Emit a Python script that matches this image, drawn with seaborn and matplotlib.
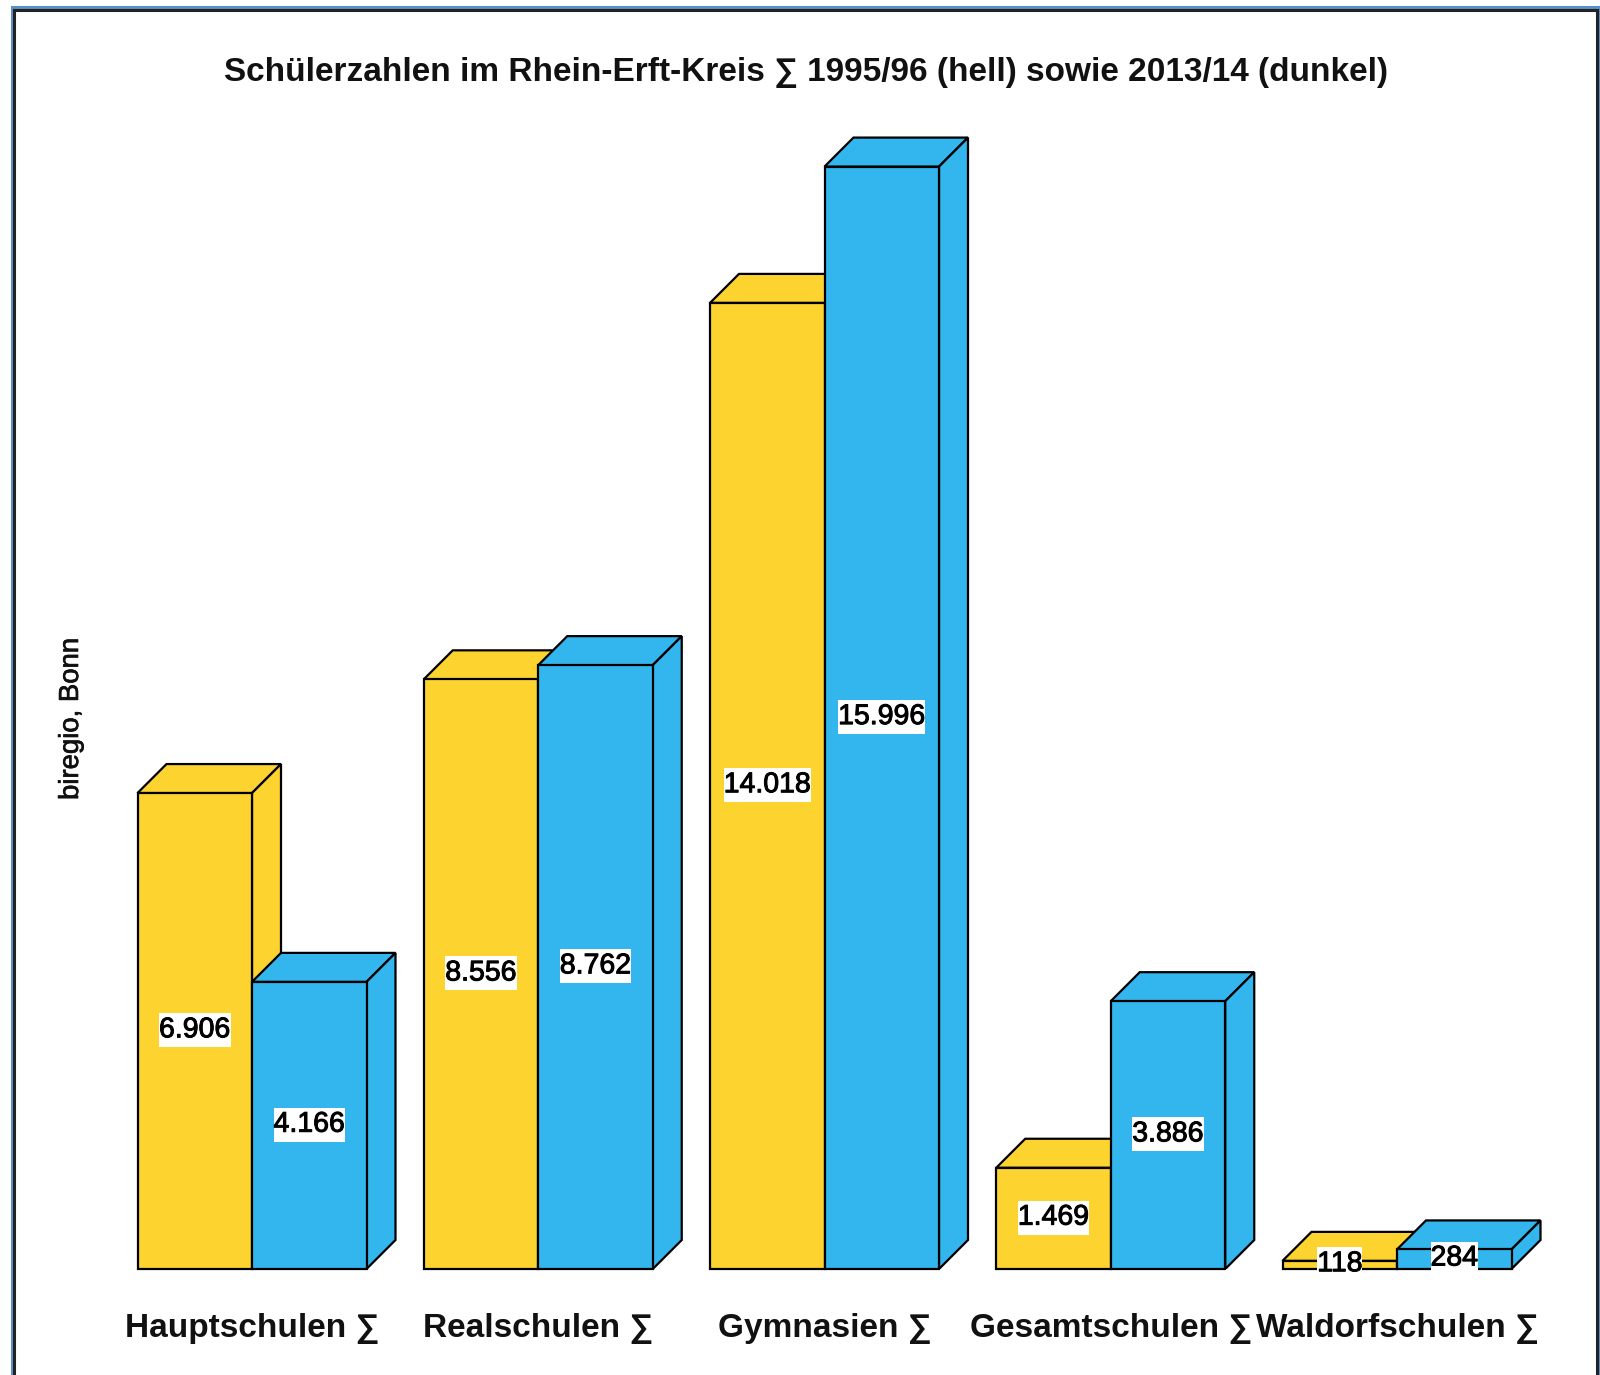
"""
Schülerzahlen im Rhein-Erft-Kreis, gruppierte Balken mit 3D-Optik
"""
import pandas as pd
import matplotlib
matplotlib.use("Agg")
import matplotlib.pyplot as plt
import matplotlib.patheffects as pe
from matplotlib.patches import Polygon, Rectangle
from matplotlib.path import Path
import seaborn as sns

schulen = ["Hauptschulen ∑", "Realschulen ∑", "Gymnasien ∑", "Gesamtschulen ∑", "Waldorfschulen ∑"]
jahre = ["1995/96", "2013/14"]
werte_1995 = [6906, 8556, 14018, 1469, 118]
werte_2013 = [4166, 8762, 15996, 3886, 284]
labels_1995 = ["6.906", "8.556", "14.018", "1.469", "118"]
labels_2013 = ["4.166", "8.762", "15.996", "3.886", "284"]
farben = ["#FDD330", "#33B5EE"]

titel = "Schülerzahlen im Rhein-Erft-Kreis ∑ 1995/96 (hell) sowie 2013/14 (dunkel)"
quelle = "biregio, Bonn"


def hohe_box(x0, y0, width, height, mutation_size):
    # weisses Feld eng in der Breite, hoeher als der Text
    x1, y1 = x0 + width, y0 + height + 4
    y0 = y0 - 4
    return Path([(x0, y0), (x1, y0), (x1, y1), (x0, y1), (x0, y0)], closed=True)


def main():
    sns.set_theme(style="white")
    plt.rcParams['font.family'] = ['Liberation Sans', 'DejaVu Sans']

    df = pd.DataFrame({
        "schule": schulen * 2,
        "jahr": [jahre[0]] * 5 + [jahre[1]] * 5,
        "anzahl": werte_1995 + werte_2013,
    })

    W, H = 1600, 1375
    base_px = 1269
    fig = plt.figure(figsize=(W / 100, H / 100), dpi=100, facecolor="white")
    ax = fig.add_axes([0, (H - base_px) / H, 1, base_px / H])
    sns.barplot(data=df, x="schule", y="anzahl", hue="jahr", palette=farben, saturation=1,
                edgecolor="black", linewidth=1.6, gap=0, legend=False, ax=ax)

    # Achsen so legen, dass eine Gruppe 286 px breit ist
    ax.set_xlim(-252 / 286.25, (W - 252) / 286.25)
    ax.set_ylim(0, base_px * 14.51)
    sns.despine(ax=ax, left=True, bottom=True)
    ax.set_xlabel("")
    ax.set_ylabel("")
    ax.set_yticks([])
    ax.tick_params(axis="x", length=0, pad=32)
    for t in ax.get_xticklabels():
        t.set_fontsize(24)
        t.set_fontweight("bold")
        t.set_color("#111111")

    # Tiefe 29 px in Datenkoordinaten
    dx = 29 / 286.25
    dy = 29 * 14.51

    for i, cont in enumerate(ax.containers):
        z = 1 + i * 2
        for bar in cont:
            bar.set_zorder(z + 1)
            bar.set_clip_on(False)
            x0, w, h = bar.get_x(), bar.get_width(), bar.get_height()
            x1 = x0 + w
            top = Polygon([(x0, h), (x0 + dx, h + dy), (x1 + dx, h + dy), (x1, h)],
                          closed=True, facecolor=farben[i], edgecolor="black",
                          linewidth=1.6, zorder=z)
            side = Polygon([(x1, 0), (x1 + dx, dy), (x1 + dx, h + dy), (x1, h)],
                           closed=True, facecolor=farben[i], edgecolor="black",
                           linewidth=1.6, zorder=z)
            ax.add_patch(top)
            ax.add_patch(side)
        texte = ax.bar_label(cont, labels=[labels_1995, labels_2013][i], label_type="center",
                             fontsize=20.5, color="black",
                             bbox=dict(boxstyle=hohe_box, facecolor="white", edgecolor="none"))
        for t in texte:
            t.set_zorder(10)
            t.xyann = (0, 0.5)
            t.set_path_effects([pe.withStroke(linewidth=0.7, foreground="black")])

    fig.text(806 / W, 1 - 72.5 / H, titel, fontsize=24, fontweight="bold", color="#111111",
             ha="center", va="center")
    fig.text(71 / W, 1 - 719 / H, quelle, fontsize=19.8, rotation=90, color="#111111",
             ha="center", va="center",
             path_effects=[pe.withStroke(linewidth=0.5, foreground="#111111")])

    # Rahmen des Screenshots: aussen blau, innen dunkel
    for rand, farbe in [(11.5, "#5B8FC8"), (14.5, "#222222")]:
        oben = rand - 5
        rechts = 1599.5 if rand < 12 else 1596.5
        fig.add_artist(Rectangle((rand / W, -0.02), (rechts - rand) / W, 1 - oben / H + 0.02,
                                 transform=fig.transFigure, fill=False,
                                 edgecolor=farbe, linewidth=2.2))

    fig.savefig("out.png", dpi=100)


if __name__ == "__main__":
    main()
